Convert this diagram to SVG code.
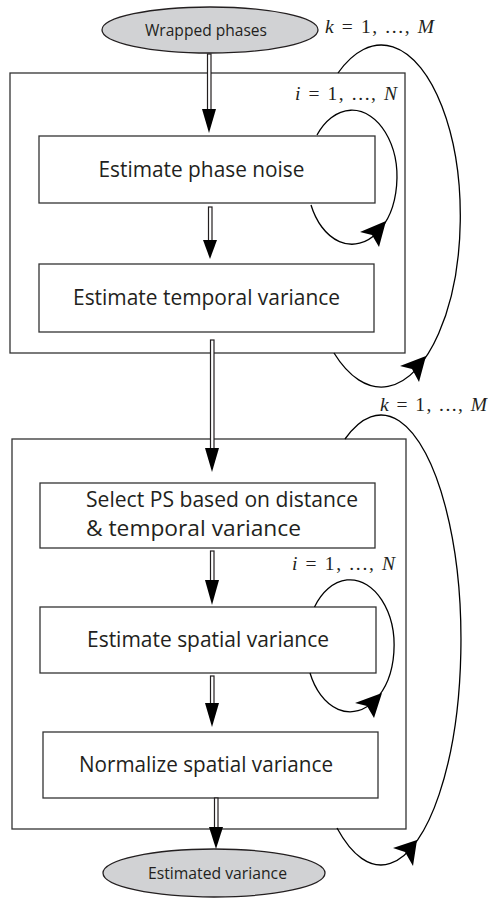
<svg xmlns="http://www.w3.org/2000/svg" width="488" height="903" viewBox="0 0 488 903">
<style>
.frame{fill:#fff;stroke:#333;stroke-width:1.3}
.box{fill:#fff;stroke:#333;stroke-width:1.3}
.term{fill:#d1d2d4;stroke:#231f20;stroke-width:1.3}
.lbl{font-family:"Open Sans","Liberation Sans",sans-serif;font-size:21px;fill:#231f20}
.tlbl{font-family:"Open Sans","Liberation Sans",sans-serif;font-size:15.5px;fill:#231f20}
.math{font-family:"Liberation Serif","DejaVu Serif",serif;font-size:19.5px;fill:#231f20;font-weight:normal}
.it{font-style:italic}
.loop{fill:none;stroke:#000;stroke-width:1.3}
.head{fill:#000}
.shaft{fill:#fff;stroke:#231f20;stroke-width:1.2}
</style>
<rect width="488" height="903" fill="#fff"/>
<g id="outer1"><rect class="frame" x="10" y="73" width="395" height="280"/></g>
<g id="outer2"><rect class="frame" x="12" y="439" width="394" height="390"/></g>
<g id="wrapped">
<ellipse class="term" cx="210" cy="30" rx="108" ry="23"/>
<text class="tlbl" x="206" y="36" text-anchor="middle" textLength="122" lengthAdjust="spacingAndGlyphs">Wrapped phases</text>
</g>
<g id="phase-noise">
<rect class="box" x="39" y="136" width="336" height="67"/>
<text class="lbl" x="201.5" y="177" text-anchor="middle" textLength="206" lengthAdjust="spacingAndGlyphs">Estimate phase noise</text>
</g>
<g id="temporal">
<rect class="box" x="39" y="264" width="335" height="68"/>
<text class="lbl" x="206.5" y="305" text-anchor="middle" textLength="267" lengthAdjust="spacingAndGlyphs">Estimate temporal variance</text>
</g>
<g id="select-ps">
<rect class="box" x="40" y="483" width="335" height="65"/>
<text class="lbl" x="86" y="507" textLength="272" lengthAdjust="spacingAndGlyphs">Select PS based on distance</text>
<text class="lbl" x="86" y="536" textLength="215" lengthAdjust="spacingAndGlyphs">&amp; temporal variance</text>
</g>
<g id="spatial">
<rect class="box" x="40" y="607" width="336" height="66"/>
<text class="lbl" x="208" y="647" text-anchor="middle" textLength="242" lengthAdjust="spacingAndGlyphs">Estimate spatial variance</text>
</g>
<g id="normalize">
<rect class="box" x="43" y="732" width="335" height="66"/>
<text class="lbl" x="206" y="772" text-anchor="middle" textLength="254" lengthAdjust="spacingAndGlyphs">Normalize spatial variance</text>
</g>
<g id="estimated">
<ellipse class="term" cx="214" cy="873" rx="111" ry="24"/>
<text class="tlbl" x="217.5" y="879" text-anchor="middle" textLength="139" lengthAdjust="spacingAndGlyphs">Estimated variance</text>
</g>
<g id="labels">
<text class="math" x="325" y="33" textLength="109" lengthAdjust="spacing"><tspan class="it">k</tspan> = 1, ..., <tspan class="it">M</tspan></text>
<text class="math" x="295" y="100" textLength="102" lengthAdjust="spacing"><tspan class="it">i</tspan> = 1, ..., <tspan class="it">N</tspan></text>
<text class="math" x="380" y="411" textLength="107" lengthAdjust="spacing"><tspan class="it">k</tspan> = 1, ..., <tspan class="it">M</tspan></text>
<text class="math" x="292" y="570" textLength="103" lengthAdjust="spacing"><tspan class="it">i</tspan> = 1, ..., <tspan class="it">N</tspan></text>
</g>
<g id="connectors">
<rect class="shaft" x="207.5" y="54" width="3.5" height="56"/>
<polygon class="head" points="202,109 216,109 209,133"/>
<rect class="shaft" x="208.5" y="207" width="3.5" height="34"/>
<polygon class="head" points="203,240 217,240 210,259"/>
<rect class="shaft" x="210.5" y="340" width="3.5" height="109"/>
<polygon class="head" points="205,448 219,448 212,472"/>
<rect class="shaft" x="210.5" y="551" width="3.5" height="30"/>
<polygon class="head" points="205,580 219,580 212,605"/>
<rect class="shaft" x="210.5" y="676" width="3.5" height="28"/>
<polygon class="head" points="205,703 219,703 212,727"/>
<rect class="shaft" x="214.5" y="798" width="3.5" height="30"/>
<polygon class="head" points="209,827 223,827 216,849"/>
<path class="loop" d="M317,135 A45,67 0 1,1 311,205"/>
<path class="head" d="M386,221 L360,232 L372,235 L379,247 Z"/>
<path class="loop" d="M314.5,607 A44,66 0 1,1 310,673"/>
<path class="head" d="M382,693 L355,703 L367,706 L374,718 Z"/>
<path class="loop" d="M338,73 A79,171 0 1,1 334,353"/>
<path class="head" d="M426,356 L400,366 L412,369 L419,382 Z"/>
<path class="loop" d="M345,439 A80,225 0 1,1 337,828"/>
<path class="head" d="M417,840 L393,848 L405,852 L413,866 Z"/>
</g>
</svg>
